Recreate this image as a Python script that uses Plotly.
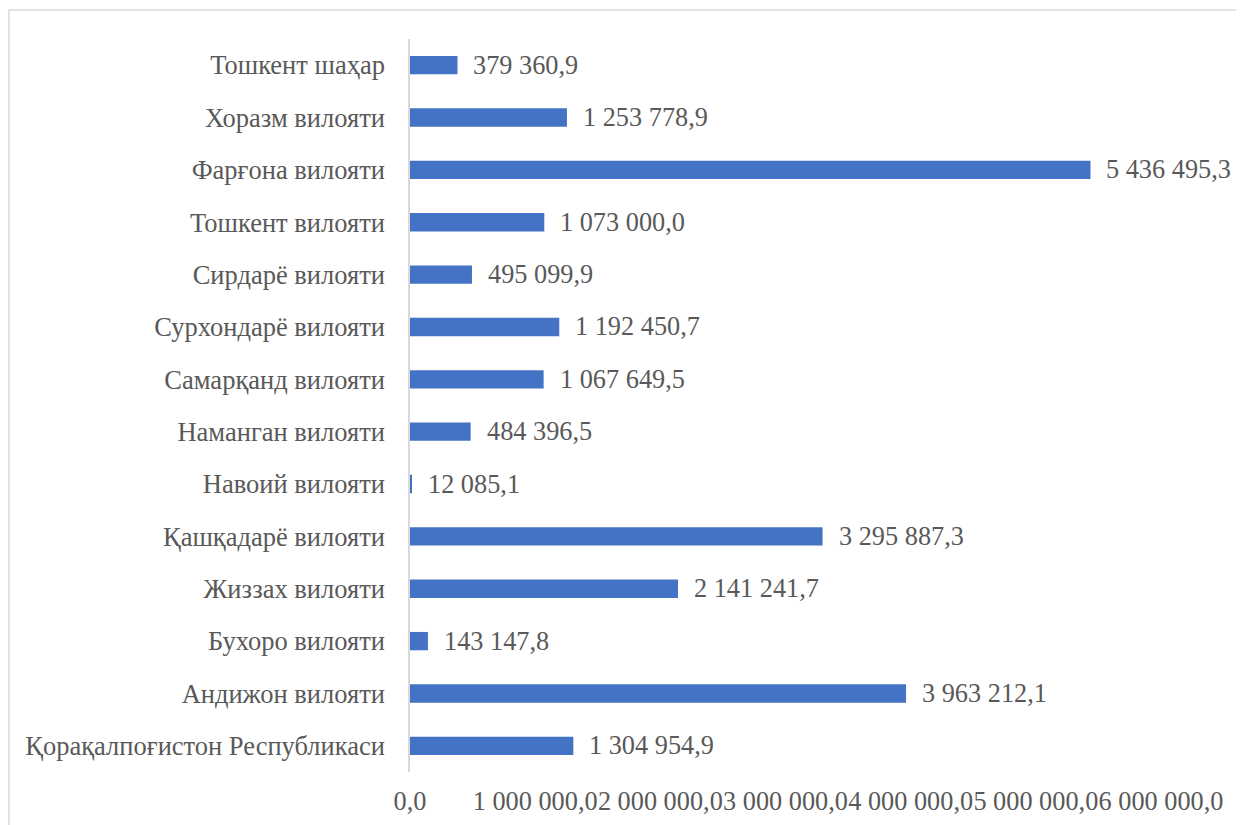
import plotly.graph_objects as go

categories = [
    "Қорақалпоғистон Республикаси",
    "Андижон вилояти",
    "Бухоро вилояти",
    "Жиззах вилояти",
    "Қашқадарё вилояти",
    "Навоий вилояти",
    "Наманган вилояти",
    "Самарқанд вилояти",
    "Сурхондарё вилояти",
    "Сирдарё вилояти",
    "Тошкент вилояти",
    "Фарғона вилояти",
    "Хоразм вилояти",
    "Тошкент шаҳар",
]
values = [
    1304954.9,
    3963212.1,
    143147.8,
    2141241.7,
    3295887.3,
    12085.1,
    484396.5,
    1067649.5,
    1192450.7,
    495099.9,
    1073000.0,
    5436495.3,
    1253778.9,
    379360.9,
]
tick_values = [0, 1000000, 2000000, 3000000, 4000000, 5000000, 6000000]

W, H = 1244, 825
OFF = 8  # page body margin
FONT = "Liberation Serif, Times New Roman, serif"
GRAY = "#595959"
FS_CAT = 26.5
FS_NUM = 26.3

fig = go.Figure()
fig.add_trace(go.Bar(
    x=values,
    y=categories,
    orientation="h",
    marker=dict(color="#4472C4", line=dict(width=0)),
    hoverinfo="x+y",
))

annotations = []
for c, v in zip(categories, values):
    annotations.append(dict(
        x=v, y=c, xref="x", yref="y",
        text=f"{v:,.1f}".replace(",", " ").replace(".", ","),
        showarrow=False, xanchor="left", yanchor="middle",
        xshift=14, font=dict(family=FONT, size=FS_NUM, color=GRAY),
    ))

fig.update_layout(
    template="none",
    width=W, height=H,
    margin=dict(l=0, r=0, t=0, b=0, pad=0),
    paper_bgcolor="white",
    plot_bgcolor="white",
    separators=", ",
    bargap=0.65,
    showlegend=False,
    font=dict(family=FONT, size=FS_CAT, color=GRAY),
    annotations=annotations,
    shapes=[dict(
        type="rect", xref="paper", yref="paper",
        x0=1 / W, x1=1.05, y0=-0.05, y1=1 - 2 / H,
        line=dict(color="#d9d9d9", width=1.5), fillcolor="rgba(0,0,0,0)",
        layer="below",
    )],
    xaxis=dict(
        domain=[(410 - OFF) / W, (1161 - OFF) / W],
        range=[0, 6000000],
        tickvals=tick_values,
        tickformat=",.1f",
        tickangle=0,
        automargin=False,
        showgrid=False,
        zeroline=False,
        showline=False,
        ticks="",
        ticklabelstandoff=11,
        tickfont=dict(family=FONT, size=FS_NUM, color=GRAY),
    ),
    yaxis=dict(
        domain=[1 - (772 - OFF) / H, 1 - (39 - OFF) / H],
        categoryorder="array",
        categoryarray=categories,
        automargin=False,
        showgrid=False,
        zeroline=False,
        showline=True,
        linecolor="#d9d9d9",
        linewidth=1.5,
        ticks="",
        ticklabelstandoff=18,
        tickfont=dict(family=FONT, size=FS_CAT, color=GRAY),
    ),
)

fig.write_html("out.html")
